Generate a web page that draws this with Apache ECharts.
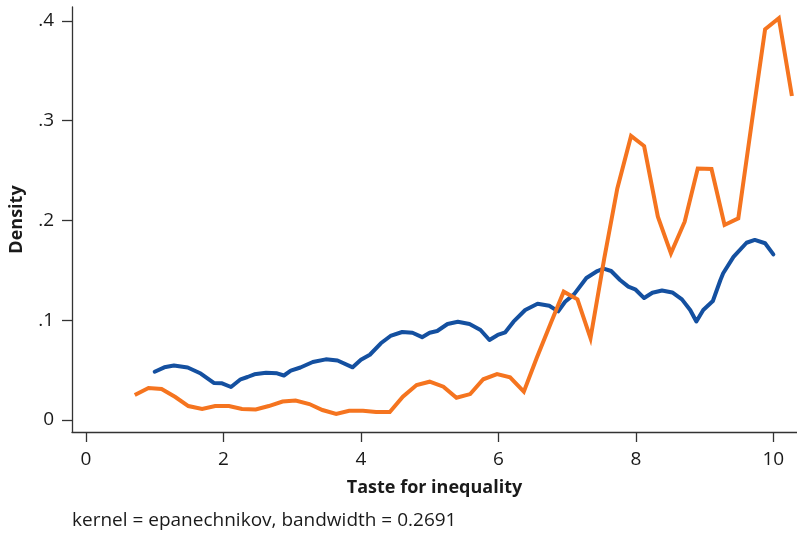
<!DOCTYPE html>
<html>
<head>
<meta charset="utf-8">
<script src="https://cdn.jsdelivr.net/npm/echarts@6/dist/echarts.min.js"></script>
<style>
html,body{margin:0;padding:0;background:#fff;}
#chart{width:797px;height:537px;}
</style>
</head>
<body>
<div id="chart"></div>
<script>
// Tick values
const xTicks = [0, 2, 4, 6, 8, 10];
const yTicks = [0, 0.1, 0.2, 0.3, 0.4];

// Blue density series
const blueX = [1.00,1.14,1.28,1.48,1.67,1.86,1.98,2.11,2.25,2.35,2.45,2.62,2.78,2.88,2.98,3.12,3.30,3.49,3.66,3.88,4.00,4.13,4.29,4.43,4.60,4.75,4.89,5.00,5.11,5.26,5.41,5.58,5.74,5.87,5.99,6.10,6.22,6.39,6.57,6.74,6.87,6.97,7.10,7.28,7.44,7.53,7.64,7.77,7.89,7.99,8.12,8.24,8.38,8.53,8.67,8.79,8.88,8.98,9.12,9.23,9.27,9.42,9.61,9.73,9.88,10.00];
const blueY = [0.0484,0.0528,0.0546,0.0526,0.0466,0.0371,0.0368,0.0331,0.0408,0.0431,0.0458,0.0474,0.0468,0.0446,0.0494,0.0526,0.0581,0.0608,0.0596,0.0528,0.0603,0.0654,0.0769,0.0842,0.0882,0.0874,0.0830,0.0875,0.0892,0.0962,0.0985,0.0962,0.0902,0.0802,0.0852,0.0879,0.0985,0.1102,0.1165,0.1145,0.1089,0.1185,0.1259,0.1423,0.1493,0.1516,0.1493,0.1403,0.1336,0.1310,0.1222,0.1275,0.1298,0.1278,0.1209,0.1102,0.0987,0.1102,0.1192,0.1403,0.1470,0.1634,0.1776,0.1804,0.1771,0.1660];

// Orange density series
const orangeX = [0.71,0.91,1.10,1.30,1.49,1.69,1.88,2.08,2.27,2.47,2.66,2.86,3.05,3.25,3.44,3.64,3.83,4.03,4.22,4.42,4.61,4.81,5.00,5.20,5.39,5.59,5.78,5.98,6.17,6.37,6.56,6.76,6.95,7.15,7.34,7.54,7.73,7.93,8.12,8.32,8.51,8.71,8.90,9.10,9.29,9.49,9.69,9.88,10.08,10.27];
const orangeY = [0.025,0.032,0.031,0.023,0.014,0.011,0.014,0.014,0.011,0.0105,0.014,0.0185,0.0195,0.016,0.010,0.006,0.0093,0.0093,0.008,0.008,0.0233,0.035,0.0384,0.0334,0.0223,0.026,0.0408,0.046,0.0428,0.0284,0.0627,0.0968,0.1286,0.121,0.082,0.162,0.232,0.2846,0.2745,0.2037,0.167,0.1987,0.252,0.2515,0.1954,0.202,0.300,0.3915,0.4025,0.3246];

const xName = 'Taste for inequality';
const yName = 'Density';
const note = 'kernel = epanechnikov, bandwidth = 0.2691';

const FONT = 'Open Sans';
const FS = 19;
const chart = echarts.init(document.getElementById('chart'), null, {renderer: 'canvas'});
const zip = (a, b) => a.map((v, i) => [v, b[i]]);

chart.setOption({
  animation: false,
  backgroundColor: '#fff',
  textStyle: {fontFamily: FONT},
  grid: {left: 71, right: 0, top: 7, bottom: 105, containLabel: false},
  xAxis: {
    type: 'value', min: -0.203, max: 10.344,
    name: xName, nameLocation: 'middle', nameGap: 47,
    nameTextStyle: {fontFamily: FONT, fontWeight: 'bold', fontSize: 18, color: '#1a1a1a'},
    axisLine: {onZero: false, lineStyle: {color: '#333', width: 1.3}},
    axisTick: {show: true, length: 10, inside: false, customValues: xTicks, lineStyle: {color: '#333', width: 1.3}},
    axisLabel: {customValues: xTicks, margin: 18, fontSize: FS, color: '#1a1a1a', fontFamily: FONT},
    splitLine: {show: false}
  },
  yAxis: {
    type: 'value', min: -0.012, max: 0.4138,
    name: yName, nameLocation: 'middle', nameGap: 46, nameRotate: 90,
    nameTextStyle: {fontFamily: FONT, fontWeight: 'bold', fontSize: 18, color: '#1a1a1a'},
    axisLine: {show: true, onZero: false, lineStyle: {color: '#333', width: 1.3}},
    axisTick: {show: true, length: 10, inside: false, customValues: yTicks, lineStyle: {color: '#333', width: 1.3}},
    axisLabel: {customValues: yTicks, margin: 18, fontSize: FS, color: '#1a1a1a', fontFamily: FONT,
      formatter: v => v === 0 ? '0' : String(+v.toFixed(1)).replace(/^0\./, '.')},
    splitLine: {show: false}
  },
  graphic: [{
    type: 'text', left: 72, top: 511,
    style: {text: note, fontFamily: FONT, fontSize: 19, fill: '#1a1a1a'}
  }],
  series: [
    {type: 'line', data: zip(blueX, blueY), showSymbol: false, symbol: 'none',
      lineStyle: {color: '#1450a0', width: 4, join: 'round', cap: 'round'}, z: 2},
    {type: 'line', data: zip(orangeX, orangeY), showSymbol: false, symbol: 'none',
      lineStyle: {color: '#f5741f', width: 4, join: 'miter', cap: 'butt'}, z: 3}
  ]
});
</script>
</body>
</html>
